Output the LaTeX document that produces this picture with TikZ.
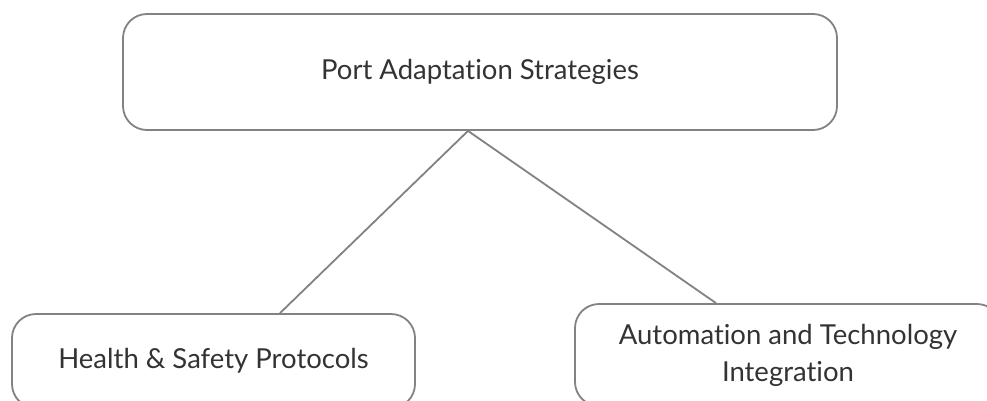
\documentclass[tikz,border=0pt]{standalone}
\usepackage{fontspec}
\setmainfont[Ligatures={NoCommon}]{Lato}
\definecolor{edgegray}{HTML}{828282}
\definecolor{textgray}{HTML}{333333}
\tikzset{
  box/.style={draw=edgegray, line width=1.8pt, rounded corners=24pt, fill=white,
    text=textgray, align=center, inner sep=0pt, font=\fontsize{27.5}{37}\selectfont},
  link/.style={draw=edgegray, line width=1.8pt}
}
\begin{document}
\begin{tikzpicture}[x=1pt,y=-1pt]
\useasboundingbox (0,0) rectangle (987,400);
\clip (0,0) rectangle (987,400);
\fill[white] (0,0) rectangle (987,400);
\node[box, minimum width=714pt, minimum height=116pt] (top) at (480,72) {Port Adaptation Strategies};
\node[box, minimum width=403pt, minimum height=94pt] (hs) at (213.5,361) {Health \& Safety Protocols};
\node[box, minimum width=426pt, minimum height=102pt] (at) at (788,355) {Automation and Technology\\Integration};
\draw[link] ([xshift=-12pt]top.south) -- ([xshift=66.5pt]hs.north);
\draw[link] ([xshift=-12pt]top.south) -- ([xshift=-72pt]at.north);
\end{tikzpicture}
\end{document}
